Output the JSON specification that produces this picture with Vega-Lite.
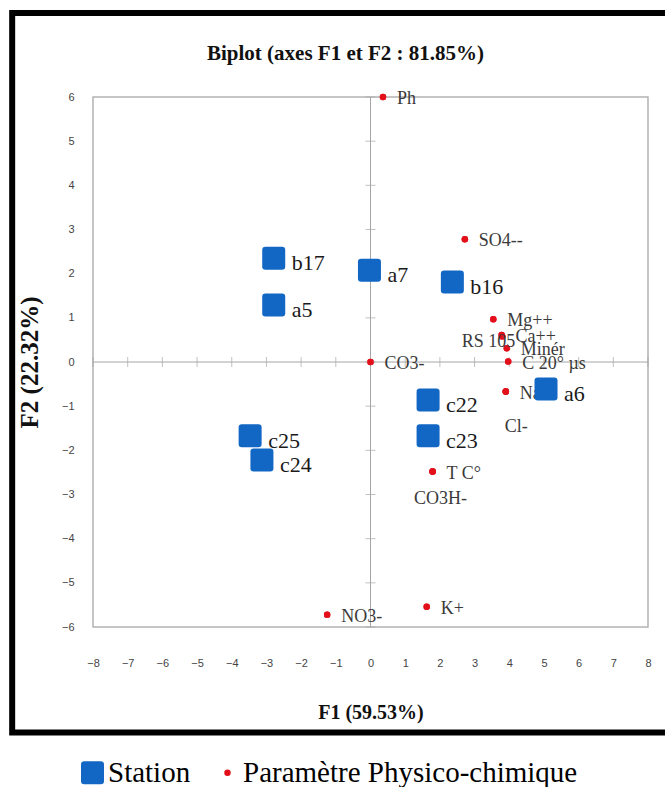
{
  "$schema": "https://vega.github.io/schema/vega-lite/v6.json",
  "width": 555,
  "height": 530,
  "autosize": {"type": "none"},
  "padding": {"left": 93, "top": 97, "right": 17, "bottom": 160},
  "background": "white",
  "config": {
    "view": {"stroke": "#b3b3b3", "strokeWidth": 1.5},
    "axis": {"grid": false, "domain": false, "ticks": false, "tickSize": 0, "labelOverlap": false, "labelFlush": false, "labelFont": "Liberation Sans", "labelFontSize": 11, "labelColor": "#444444", "titleFont": "Liberation Serif", "titleFontWeight": "bold", "titleColor": "#111111"},
    "axisX": {"tickCount": 17, "labelPadding": 30, "titleFontSize": 20, "titlePadding": 34},
    "axisY": {"tickCount": 13, "labelPadding": 19, "titleFontSize": 25, "titlePadding": 19}
  },
  "title": {"text": "Biplot (axes F1 et F2 : 81.85%)", "frame": "group", "anchor": "middle", "font": "Liberation Serif", "fontSize": 21, "fontWeight": "bold", "color": "#111111", "dx": -25, "offset": -54},
  "datasets": {
    "points": [
      {"name": "b17", "type": "Station", "F1": -2.79, "F2": 2.35},
      {"name": "a5", "type": "Station", "F1": -2.79, "F2": 1.29},
      {"name": "a7", "type": "Station", "F1": -0.03, "F2": 2.08},
      {"name": "b16", "type": "Station", "F1": 2.36, "F2": 1.81},
      {"name": "c22", "type": "Station", "F1": 1.66, "F2": -0.86},
      {"name": "c23", "type": "Station", "F1": 1.66, "F2": -1.67},
      {"name": "a6", "type": "Station", "F1": 5.06, "F2": -0.61},
      {"name": "c25", "type": "Station", "F1": -3.47, "F2": -1.67},
      {"name": "c24", "type": "Station", "F1": -3.13, "F2": -2.22},
      {"name": "Ph", "type": "Paramètre Physico-chimique", "F1": 0.36, "F2": 6.0},
      {"name": "SO4--", "type": "Paramètre Physico-chimique", "F1": 2.72, "F2": 2.78},
      {"name": "Mg++", "type": "Paramètre Physico-chimique", "F1": 3.54, "F2": 0.97},
      {"name": "Ca++", "type": "Paramètre Physico-chimique", "F1": 3.78, "F2": 0.61},
      {"name": "RS 105", "type": "Paramètre Physico-chimique", "F1": 3.8, "F2": 0.58},
      {"name": "Minér", "type": "Paramètre Physico-chimique", "F1": 3.93, "F2": 0.31},
      {"name": "C 20° µs", "type": "Paramètre Physico-chimique", "F1": 3.97, "F2": 0.01},
      {"name": "Na", "type": "Paramètre Physico-chimique", "F1": 3.9, "F2": -0.67},
      {"name": "Cl-", "type": "Paramètre Physico-chimique", "F1": 3.9, "F2": -0.67},
      {"name": "CO3-", "type": "Paramètre Physico-chimique", "F1": 0.0, "F2": 0.0},
      {"name": "T C°", "type": "Paramètre Physico-chimique", "F1": 1.79, "F2": -2.48},
      {"name": "CO3H-", "type": "Paramètre Physico-chimique", "F1": 1.79, "F2": -2.48},
      {"name": "K+", "type": "Paramètre Physico-chimique", "F1": 1.62, "F2": -5.54},
      {"name": "NO3-", "type": "Paramètre Physico-chimique", "F1": -1.25, "F2": -5.72}
    ],
    "ticks": [
      {"v": -8}, {"v": -7}, {"v": -6}, {"v": -5}, {"v": -4}, {"v": -3}, {"v": -2}, {"v": -1}, {"v": 0},
      {"v": 1}, {"v": 2}, {"v": 3}, {"v": 4}, {"v": 5}, {"v": 6}, {"v": 7}, {"v": 8}
    ]
  },
  "layer": [
    {
      "data": {"name": "points"},
      "transform": [{"filter": "datum.type === 'Paramètre Physico-chimique'"}],
      "mark": {"type": "point", "filled": true, "opacity": 1},
      "encoding": {
        "x": {"field": "F1", "type": "quantitative", "scale": {"domain": [-8, 8], "nice": false, "zero": false},
          "axis": {"title": "F1 (59.53%)", "values": [-8, -7, -6, -5, -4, -3, -2, -1, 0, 1, 2, 3, 4, 5, 6, 7, 8]}},
        "y": {"field": "F2", "type": "quantitative", "scale": {"domain": [-6, 6], "nice": false, "zero": false},
          "axis": {"title": "F2 (22.32%)", "values": [-6, -5, -4, -3, -2, -1, 0, 1, 2, 3, 4, 5, 6]}},
        "color": {"field": "type", "type": "nominal", "scale": {"domain": ["Station", "Paramètre Physico-chimique"], "range": ["#1266c4", "#e3101b"]},
          "legend": {"orient": "none", "legendX": -15, "legendY": 661, "direction": "horizontal", "title": null, "labelFont": "Liberation Serif", "labelFontSize": 29, "labelColor": "#000000", "labelLimit": 0, "labelOffset": 1, "columnPadding": 22, "symbolStrokeWidth": 0}},
        "shape": {"field": "type", "type": "nominal", "scale": {"domain": ["Station", "Paramètre Physico-chimique"], "range": ["M-0.72,-1H0.72Q1,-1 1,-0.72V0.72Q1,1 0.72,1H-0.72Q-1,1 -1,0.72V-0.72Q-1,-1 -0.72,-1Z", "circle"]}},
        "size": {"field": "type", "type": "nominal", "scale": {"domain": ["Station", "Paramètre Physico-chimique"], "range": [529, 42]}}
      }
    },
    {
      "data": {"name": "ticks"},
      "transform": [{"filter": "datum.v === 0"}],
      "mark": {"type": "rect", "fill": "transparent", "stroke": "#000000", "strokeWidth": 6},
      "encoding": {
        "x": {"datum": -10.33, "type": "quantitative"},
        "x2": {"datum": 9.5},
        "y": {"datum": 7.9, "type": "quantitative"},
        "y2": {"datum": -8.39}
      }
    },
    {
      "data": {"name": "ticks"},
      "transform": [{"filter": "datum.v === 0"}],
      "mark": {"type": "rule", "color": "#a6a6a6", "strokeWidth": 1},
      "encoding": {"x": {"datum": 0, "type": "quantitative"}}
    },
    {
      "data": {"name": "ticks"},
      "transform": [{"filter": "datum.v === 0"}],
      "mark": {"type": "rule", "color": "#a6a6a6", "strokeWidth": 1},
      "encoding": {"y": {"datum": 0, "type": "quantitative"}}
    },
    {
      "data": {"name": "ticks"},
      "mark": {"type": "tick", "orient": "vertical", "color": "#a6a6a6", "size": 10, "thickness": 1},
      "encoding": {
        "x": {"field": "v", "type": "quantitative"},
        "y": {"datum": 0, "type": "quantitative"}
      }
    },
    {
      "data": {"name": "ticks"},
      "transform": [{"filter": "abs(datum.v) <= 6"}],
      "mark": {"type": "tick", "orient": "horizontal", "color": "#a6a6a6", "size": 10, "thickness": 1},
      "encoding": {
        "y": {"field": "v", "type": "quantitative"},
        "x": {"datum": 0, "type": "quantitative"}
      }
    },
    {
      "data": {"name": "points"},
      "transform": [{"filter": "datum.type === 'Paramètre Physico-chimique'"}],
      "mark": {"type": "point", "filled": true, "opacity": 1},
      "encoding": {
        "x": {"field": "F1", "type": "quantitative"},
        "y": {"field": "F2", "type": "quantitative"},
        "color": {"field": "type", "type": "nominal"},
        "shape": {"field": "type", "type": "nominal"},
        "size": {"field": "type", "type": "nominal"}
      }
    },
    {
      "data": {"name": "points"},
      "transform": [{"filter": "datum.type === 'Paramètre Physico-chimique' && datum.name !== 'RS 105' && datum.name !== 'CO3H-' && datum.name !== 'Cl-'"}],
      "mark": {"type": "text", "align": "left", "baseline": "middle", "dx": 14, "dy": 2, "font": "Liberation Serif", "fontSize": 18, "color": "#3a3a3a"},
      "encoding": {
        "x": {"field": "F1", "type": "quantitative"},
        "y": {"field": "F2", "type": "quantitative"},
        "text": {"field": "name"}
      }
    },
    {
      "data": {"name": "points"},
      "transform": [{"filter": "datum.name === 'RS 105'"}],
      "mark": {"type": "text", "align": "right", "baseline": "middle", "dx": 13, "dy": 6, "font": "Liberation Serif", "fontSize": 18, "color": "#3a3a3a"},
      "encoding": {
        "x": {"field": "F1", "type": "quantitative"},
        "y": {"field": "F2", "type": "quantitative"},
        "text": {"field": "name"}
      }
    },
    {
      "data": {"name": "points"},
      "transform": [{"filter": "datum.name === 'CO3H-'"}],
      "mark": {"type": "text", "align": "center", "baseline": "middle", "dx": 8, "dy": 27, "font": "Liberation Serif", "fontSize": 18, "color": "#3a3a3a"},
      "encoding": {
        "x": {"field": "F1", "type": "quantitative"},
        "y": {"field": "F2", "type": "quantitative"},
        "text": {"field": "name"}
      }
    },
    {
      "data": {"name": "points"},
      "transform": [{"filter": "datum.name === 'Cl-'"}],
      "mark": {"type": "text", "align": "left", "baseline": "middle", "dx": -1, "dy": 35, "font": "Liberation Serif", "fontSize": 18, "color": "#3a3a3a"},
      "encoding": {
        "x": {"field": "F1", "type": "quantitative"},
        "y": {"field": "F2", "type": "quantitative"},
        "text": {"field": "name"}
      }
    },
    {
      "data": {"name": "points"},
      "transform": [{"filter": "datum.type === 'Station'"}],
      "mark": {"type": "point", "filled": true, "opacity": 1},
      "encoding": {
        "x": {"field": "F1", "type": "quantitative"},
        "y": {"field": "F2", "type": "quantitative"},
        "color": {"field": "type", "type": "nominal"},
        "shape": {"field": "type", "type": "nominal"},
        "size": {"field": "type", "type": "nominal"}
      }
    },
    {
      "data": {"name": "points"},
      "transform": [{"filter": "datum.type === 'Station'"}],
      "mark": {"type": "text", "align": "left", "baseline": "middle", "dx": 18, "dy": 5, "font": "Liberation Serif", "fontSize": 22, "color": "#1a1a1a"},
      "encoding": {
        "x": {"field": "F1", "type": "quantitative"},
        "y": {"field": "F2", "type": "quantitative"},
        "text": {"field": "name"}
      }
    }
  ]
}
